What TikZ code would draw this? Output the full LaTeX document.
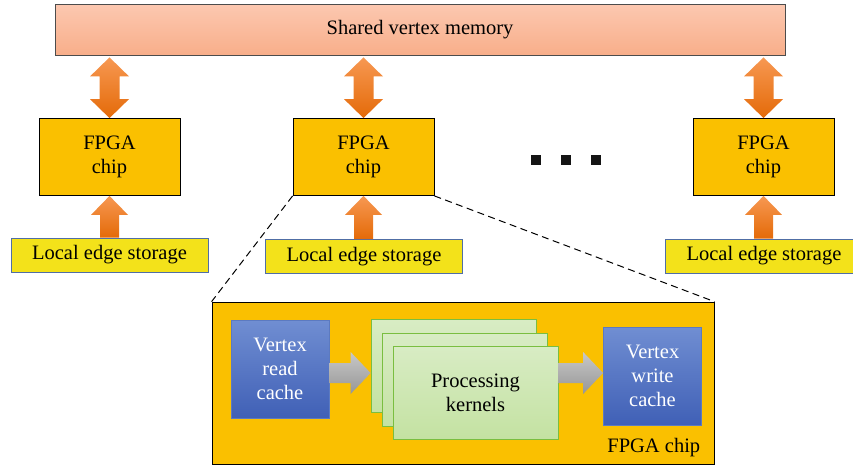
\documentclass[tikz,border=0pt]{standalone}
\usepackage{fontspec}
\setmainfont{Liberation Serif}
\usepackage{tikz}
\usetikzlibrary{calc,positioning,shapes}

\definecolor{memtop}{RGB}{252,200,176}
\definecolor{membot}{RGB}{248,174,138}
\definecolor{chipfill}{RGB}{250,192,0}
\definecolor{edgefill}{RGB}{243,226,26}
\definecolor{edgeline}{RGB}{80,110,165}
\definecolor{orgtop}{RGB}{247,152,82}
\definecolor{orgbot}{RGB}{228,106,8}
\definecolor{bluetop}{RGB}{112,142,210}
\definecolor{bluebot}{RGB}{64,96,182}
\definecolor{blueline}{RGB}{92,122,192}
\definecolor{greentop}{RGB}{216,236,196}
\definecolor{greenbot}{RGB}{196,226,162}
\definecolor{greenline}{RGB}{122,190,64}
\definecolor{graytop}{RGB}{200,200,200}
\definecolor{graybot}{RGB}{150,150,150}

\tikzset{
  txt/.style={ font=\fontsize{20.5}{24}\selectfont, align=center, inner sep=0pt }
}
\tikzset{
  membox/.style={ txt, draw=black!70, line width=0.8pt, top color=memtop, bottom color=membot, minimum width=730pt, minimum height=51pt }
}
\tikzset{
  chipbox/.style={ txt, draw=black, line width=0.8pt, fill=chipfill, minimum width=141pt, minimum height=77pt }
}
\tikzset{
  edgebox/.style={ txt, draw=edgeline, line width=0.8pt, fill=edgefill, minimum width=197pt, minimum height=34pt }
}
\tikzset{
  cachebox/.style={ txt, text=white, draw=blueline, line width=0.8pt, top color=bluetop, bottom color=bluebot, minimum width=98pt, minimum height=98pt }
}
\tikzset{
  kernbox/.style={ txt, draw=greenline, line width=0.8pt, top color=greentop, bottom color=greenbot, minimum width=165pt, minimum height=93pt }
}
\tikzset{
  orgfill/.style={ top color=orgtop, bottom color=orgbot }
}
\tikzset{
  grayfill/.style={ top color=graytop, bottom color=graybot }
}
\tikzset{
  zoomline/.style={ line width=1pt, dash pattern=on 7pt off 4.5pt }
}

% fat arrow pointing up: #1 tail, #2 tip
\newcommand{\fatup}[2]{%
  \shade[orgfill] let \p1=(#1), \p2=(#2) in
    (\x2,\y2) -- (\x2+18.5pt,\y2-19pt) -- (\x2+9.5pt,\y2-19pt) -- (\x1+9.5pt,\y1)
    -- (\x1-9.5pt,\y1) -- (\x2-9.5pt,\y2-19pt) -- (\x2-18.5pt,\y2-19pt) -- cycle;}
% fat double arrow: #1 lower tip, #2 upper tip
\newcommand{\fatboth}[2]{%
  \shade[orgfill] let \p1=(#1), \p2=(#2) in
    (\x2,\y2) -- (\x2+19.5pt,\y2-19pt) -- (\x2+10pt,\y2-19pt) -- (\x1+10pt,\y1+19pt)
    -- (\x1+19.5pt,\y1+19pt) -- (\x1,\y1) -- (\x1-19.5pt,\y1+19pt) -- (\x1-10pt,\y1+19pt)
    -- (\x2-10pt,\y2-19pt) -- (\x2-19.5pt,\y2-19pt) -- cycle;}
% fat arrow pointing right: #1 tail, #2 tip
\newcommand{\fatright}[2]{%
  \shade[grayfill] let \p1=(#1), \p2=(#2) in
    (\x2,\y2) -- (\x2-20pt,\y2+21pt) -- (\x2-20pt,\y2+10pt) -- (\x1,\y1+10pt)
    -- (\x1,\y1-10pt) -- (\x2-20pt,\y2-10pt) -- (\x2-20pt,\y2-21pt) -- cycle;}

\begin{document}
\begin{tikzpicture}[x=1pt, y=-1pt]
  \useasboundingbox (0,0) rectangle (853,466);

  \node[membox] (mem) at (420, 29.5) {Shared vertex memory};

  \node[chipbox] (chip1) at (109.5, 157) {FPGA\\chip};
  \node[chipbox] (chip2) at (363.5, 157) {FPGA\\chip};
  \node[chipbox] (chip3) at (763.5, 157) {FPGA\\chip};

  \node[edgebox] (edge1) at (109.5, 255) {Local edge storage};
  \node[edgebox] (edge2) at (364, 256.5) {Local edge storage};
  \node[edgebox] (edge3) at (764, 256) {Local edge storage};

  \foreach \i/\x in {1/536, 2/565.5, 3/596}
    \node[fill=black!92, minimum size=10pt, inner sep=0pt] (dot\i) at (\x, 160) {};

  \foreach \i in {1,2,3} {
    \fatboth{chip\i.north}{$(chip\i.north |- mem.south)+(0,2)$}
    \fatup{chip\i.north |- edge\i.north}{chip\i.south}
  }

  % zoomed chip
  \node[draw=black, line width=0.8pt, fill=chipfill, minimum width=502pt, minimum height=162pt] (big) at (463, 383) {};
  \draw[zoomline] (chip2.south west) -- (big.north west);
  \draw[zoomline] (chip2.south east) -- (big.north east);
  \node[txt, anchor=base east] (biglbl) at ([xshift=-14pt, yshift=12pt]big.south east) {FPGA chip};

  \node[cachebox] (rdcache) at (280, 369) {Vertex\\read\\cache};
  \node[kernbox] (kern1) at (453.5, 366) {};
  \node[kernbox] (kern2) at (464.5, 379.5) {};
  \node[kernbox] (kern3) at (475.5, 392.5) {Processing\\kernels};
  \node[cachebox] (wrcache) at (652.5, 376) {Vertex\\write\\cache};

  \fatright{rdcache.east |- 0,373}{kern1.west |- 0,373}
  \fatright{kern3.east |- 0,373}{wrcache.west |- 0,373}
\end{tikzpicture}
\end{document}
